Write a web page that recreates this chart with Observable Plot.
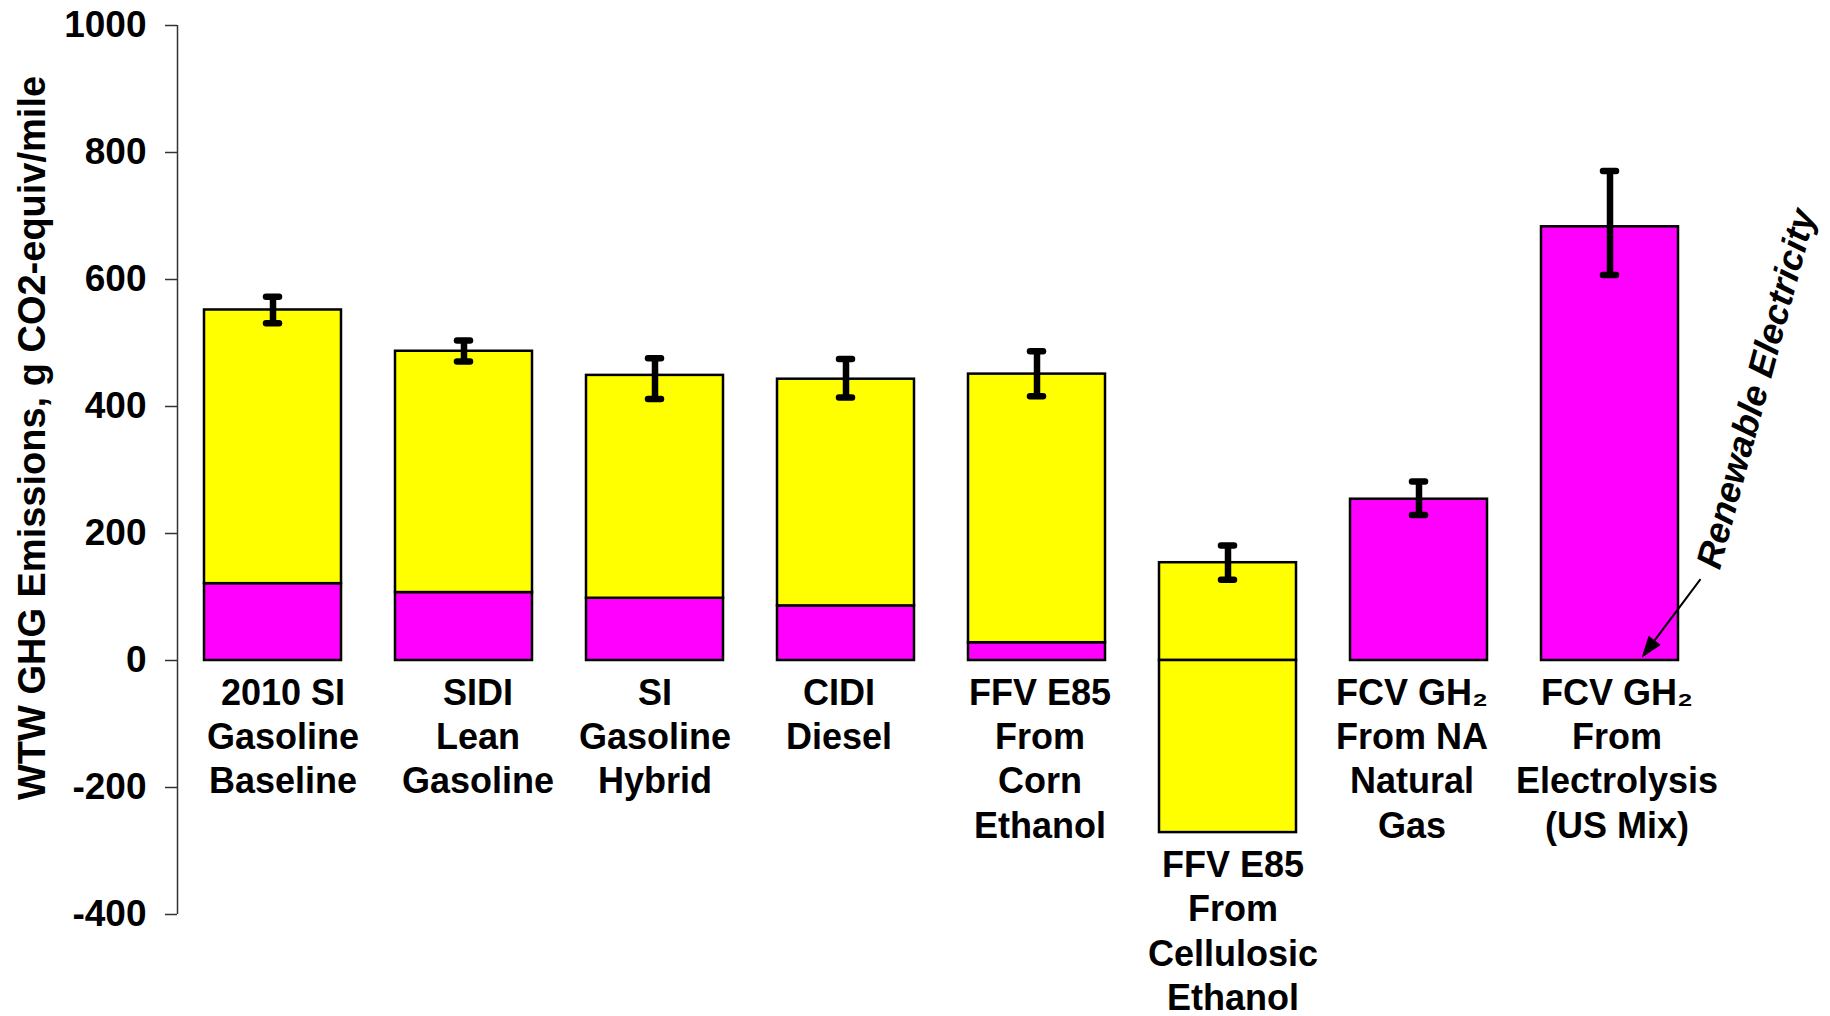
<!DOCTYPE html>
<html>
<head>
<meta charset="utf-8">
<script src="https://cdn.jsdelivr.net/npm/d3@7"></script>
<script src="https://cdn.jsdelivr.net/npm/@observablehq/plot@0.6"></script>
<style>
  html, body { margin: 0; padding: 0; background: #fff; }
  #chart svg { display: block; }
</style>
</head>
<body>
<div id="chart"></div>
<script>
// ---------------- DATA ----------------
const categories = [
  "2010 SI\nGasoline\nBaseline",
  "SIDI\nLean\nGasoline",
  "SI\nGasoline\nHybrid",
  "CIDI\nDiesel",
  "FFV E85\nFrom\nCorn\nEthanol",
  "FFV E85\nFrom\nCellulosic\nEthanol",
  "FCV GH\u2082\nFrom NA\nNatural\nGas",
  "FCV GH\u2082\nFrom\nElectrolysis\n(US Mix)"
];
// magenta (lower) segment, from 0
const magentaPart = [121, 107, 98, 86, 28, 0, 254, 683];
// total positive height (yellow segment fills magenta..total)
const totalPositive = [552, 487, 449, 443, 451, 154, 254, 683];
// negative (credit) yellow segment
const negativePart = [0, 0, 0, 0, 0, -271, 0, 0];
// error bar ranges
const errLow  = [531, 471, 412, 414, 416, 127, 229, 607];
const errHigh = [573, 504, 476, 475, 487, 181, 282, 771];
// axis
const yTicks = [-400, -200, 0, 200, 400, 600, 800, 1000];
const yTitle = "WTW GHG Emissions, g CO2-equiv/mile";
// annotation
const annotationText = ["Renewable Electricity"];
const annotationPos = [{x: 7.767, y: 428}];
const arrowStart = [{x: 7.474, y: 128}];
const arrowTip = [{x: 7.17, y: 6}];

// ---------------- LAYOUT ----------------
const W = 1830, H = 1016;
const mL = 177, mR = 125, mT = 25, mB = 102;
const xDomain = [-0.5, 7.5];
const yDomain = [-400, 1000];
const kx = (W - mL - mR) / (xDomain[1] - xDomain[0]);   // px per category unit
const ky = (H - mT - mB) / (yDomain[1] - yDomain[0]);   // px per value unit
const halfBar = 68.5 / kx;
const capHalf = 6.5 / kx;
const labelNudge = [10, 14, 0, -7, 3, 5, -7, 7]; // px, layout only

const rows = categories.map((c, i) => ({
  i, c,
  mag: magentaPart[i], tot: totalPositive[i], neg: negativePart[i],
  lo: errLow[i], hi: errHigh[i]
}));

// arrow head polygon (filled triangle), computed in data units from tip + direction
const s0 = arrowStart[0], t0 = arrowTip[0];
const dxp = (t0.x - s0.x) * kx, dyp = -(t0.y - s0.y) * ky;
const len = Math.hypot(dxp, dyp);
const ux = dxp / len, uy = dyp / len;
const headLen = 20, headHalf = 7;
const bx = t0.x * kx - ux * headLen, by = -t0.y * ky - uy * headLen;
const nx = -uy, ny = ux;
const toData = (px, py) => ({x: px / kx, y: -py / ky});
const headPoly = [
  {x: t0.x, y: t0.y},
  toData(bx + nx * headHalf, by + ny * headHalf),
  toData(bx - nx * headHalf, by - ny * headHalf),
  {x: t0.x, y: t0.y}
];
const shaftEnd = [toData(bx, by)];

const font = "'Liberation Sans', Arial, Helvetica, sans-serif";

const chart = Plot.plot({
  width: W,
  height: H,
  marginLeft: mL,
  marginRight: mR,
  marginTop: mT,
  marginBottom: mB,
  style: {fontFamily: font, fontWeight: "bold", color: "black", background: "white", overflow: "visible"},
  x: {type: "linear", domain: xDomain, axis: null},
  y: {domain: yDomain, axis: null},
  marks: [
    // axis line
    Plot.ruleX([xDomain[0]], {x: d => d, y1: () => yDomain[0], y2: () => yDomain[1], stroke: "#333", strokeWidth: 1.5}),
    Plot.axisY({
      ticks: yTicks, tickSize: 12, tickPadding: 19,
      tickFormat: d => String(d), label: null,
      fontSize: 37, fontWeight: "bold", stroke: "#333", strokeWidth: 1.5
    }),
    // magenta segments
    Plot.rect(rows.filter(d => d.mag > 0), {
      x1: d => d.i - halfBar, x2: d => d.i + halfBar,
      y1: () => 0, y2: d => d.mag,
      fill: "#FF00FF", stroke: "black", strokeWidth: 2.5
    }),
    // yellow positive segments
    Plot.rect(rows.filter(d => d.tot > d.mag), {
      x1: d => d.i - halfBar, x2: d => d.i + halfBar,
      y1: d => d.mag, y2: d => d.tot,
      fill: "#FFFF00", stroke: "black", strokeWidth: 2.5
    }),
    // yellow negative segments
    Plot.rect(rows.filter(d => d.neg < 0), {
      x1: d => d.i - halfBar, x2: d => d.i + halfBar,
      y1: d => d.neg, y2: () => 0,
      fill: "#FFFF00", stroke: "black", strokeWidth: 2.5
    }),
    // error bars
    Plot.ruleX(rows, {x: "i", y1: "lo", y2: "hi", stroke: "black", strokeWidth: 6.5}),
    Plot.ruleY(rows, {y: "lo", x1: d => d.i - capHalf, x2: d => d.i + capHalf, stroke: "black", strokeWidth: 6.5, strokeLinecap: "round"}),
    Plot.ruleY(rows, {y: "hi", x1: d => d.i - capHalf, x2: d => d.i + capHalf, stroke: "black", strokeWidth: 6.5, strokeLinecap: "round"}),
    // category labels
    Plot.text(rows, {
      x: d => d.i + labelNudge[d.i] / kx,
      y: d => Math.min(0, d.neg),
      text: "c", lineAnchor: "top", textAnchor: "middle",
      dy: 13, fontSize: 36, fontWeight: "bold", lineHeight: 1.23, fill: "black"
    }),
    // y title
    Plot.text([yTitle], {
      frameAnchor: "left", text: d => d, rotate: -90, textAnchor: "middle",
      dx: -145, dy: -32, fontSize: 38, fontWeight: "bold", fill: "black"
    }),
    // annotation
    Plot.text(annotationPos, {
      x: "x", y: "y", text: () => annotationText[0], rotate: -75,
      textAnchor: "middle", lineAnchor: "middle",
      fontSize: 36, fontWeight: "bold", fontStyle: "italic", fill: "black"
    }),
    Plot.link(arrowStart, {x1: "x", y1: "y", x2: () => shaftEnd[0].x, y2: () => shaftEnd[0].y, stroke: "black", strokeWidth: 2}),
    Plot.line(headPoly, {x: "x", y: "y", fill: "black", stroke: "black", strokeWidth: 1})
  ]
});

document.getElementById("chart").appendChild(chart);
</script>
</body>
</html>
